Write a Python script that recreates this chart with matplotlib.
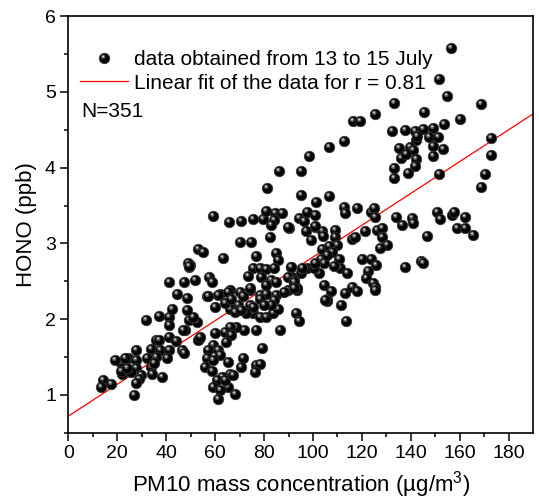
import matplotlib
matplotlib.use("Agg")
import matplotlib.pyplot as plt
from matplotlib.lines import Line2D
from matplotlib.markers import MarkerStyle
from matplotlib.transforms import Affine2D

plt.rcParams['font.family'] = ['Liberation Sans', 'DejaVu Sans']
plt.rcParams['mathtext.fontset'] = 'custom'
plt.rcParams['mathtext.rm'] = 'Liberation Sans'
plt.rcParams['mathtext.it'] = 'Liberation Sans'

# PM10 (ug/m3) and HONO (ppb)
pm10 = [
    # upper right group
    156.4, 151.7, 154.6, 168.8, 133.0, 145.3, 125.2, 116.3, 119.4, 160.1,
    132.5, 137.8, 141.7, 144.9, 149.2, 153.7, 142.2, 142.7, 147.6, 151.0,
    135.2, 139.5, 141.1, 148.9, 153.2, 135.8, 138.1, 142.2, 148.9, 133.2,
    141.6, 133.0, 138.7, 151.4, 172.6, 172.6, 170.3, 168.8, 106.5, 112.6,
    106.5, 98.4, 95.1,
    # middle right
    95.2, 101.3, 112.6, 112.9, 118.2, 123.6, 125.1, 125.3, 133.9, 136.6,
    140.3, 140.9, 150.8, 152.0, 156.7, 157.8, 162.2, 158.9, 162.0, 165.6,
    146.5, 137.8, 144.3, 145.1, 94.3, 96.3, 97.7, 100.7, 90.3, 97.0,
    101.0, 103.5, 104.2, 109.1, 109.1, 109.8, 99.1, 116.0, 117.2, 121.3,
    126.0, 128.1, 128.1, 130.1, 127.4, 120.0, 123.6, 125.7, 122.7, 121.7,
    124.7, 125.3, 110.5, 110.9, 113.9, 104.5, 107.2, 113.2, 116.0, 117.9,
    105.8, 103.8, 106.5, 103.1, 104.7, 102.4, 108.4, 97.7, 95.0, 91.6,
    92.3, 93.6, 90.9, 100.4, 101.0, 107.9, 105.8, 105.8, 111.6,
    93.0, 94.3, 113.4, 125.3, 100.9,
    # middle
    86.2, 81.2, 59.3, 65.6, 70.5, 75.4, 79.4, 80.8, 84.5, 87.5,
    84.0, 82.8, 89.6, 70.1, 74.5, 82.6, 52.9, 55.2, 49.8, 63.0,
    76.8, 84.9, 85.6, 75.4, 78.2, 80.8, 84.0, 73.4, 78.7, 82.8,
    84.9, 91.0, 95.7, 89.6, 92.3, 93.6, 89.6, 57.5, 58.8, 62.0,
    66.0, 70.1, 74.1, 71.3, 78.2, 80.7, 84.9, 88.2, 56.5, 51.8,
    49.1, 48.9, 49.3, 41.3, 47.1, 44.4, 48.5,
    # lower middle
    57.2, 61.3, 59.9, 65.3, 74.1, 80.8, 84.2, 78.2, 74.1, 69.4,
    66.0, 68.0, 75.4, 78.2, 80.8, 83.5, 85.6, 82.8, 80.1, 75.4,
    72.7, 70.7, 64.0, 66.6, 92.3, 92.3, 105.1, 86.6, 76.8, 71.7,
    68.7, 66.0, 64.0, 59.9, 66.6, 64.6, 53.2, 49.1, 52.5, 51.1,
    59.2, 57.2, 61.3, 62.0, 56.5, 59.2, 55.9, 58.5, 65.3, 71.3,
    70.7, 66.0, 62.6, 60.6, 59.2, 65.3, 62.0, 68.0, 61.3, 76.8,
    78.2, 76.1, 79.0, 64.0, 67.3,
    # lower left
    31.8, 37.0, 41.1, 42.3, 41.1, 48.5, 47.8, 52.9, 53.9, 36.0,
    37.0, 41.1, 43.9, 46.4, 47.1, 33.6, 37.6, 41.1, 40.4, 35.6,
    32.3, 33.6, 35.0, 38.1, 34.3, 27.5, 24.5, 27.5, 27.5, 21.4,
    23.5, 22.1, 25.5, 29.5, 28.8, 27.5, 19.2, 26.8, 23.2, 14.0,
    13.3, 17.4, 46.8, 21.4, 24.1,
]
hono = [
    5.58, 5.17, 4.94, 4.84, 4.86, 4.74, 4.71, 4.61, 4.61, 4.64,
    4.49, 4.50, 4.49, 4.51, 4.53, 4.57, 4.36, 4.42, 4.41, 4.41,
    4.26, 4.27, 4.23, 4.28, 4.25, 4.13, 4.18, 4.12, 4.15, 4.00,
    4.02, 3.86, 3.93, 3.92, 4.39, 4.17, 3.92, 3.74, 4.27, 4.35,
    3.62, 4.16, 3.96,
    3.64, 3.55, 3.48, 3.40, 3.47, 3.42, 3.47, 3.35, 3.35, 3.24,
    3.33, 3.27, 3.41, 3.32, 3.37, 3.41, 3.35, 3.20, 3.20, 3.11,
    3.10, 2.69, 2.77, 2.74, 3.33, 3.30, 3.42, 3.38, 3.20, 3.16,
    3.21, 3.16, 3.10, 3.18, 3.08, 2.98, 3.04, 3.06, 3.09, 3.17,
    3.18, 3.20, 3.08, 2.98, 2.94, 2.79, 2.80, 2.72, 2.63, 2.54,
    2.48, 2.42, 2.79, 2.68, 2.61, 2.45, 2.37, 2.35, 2.42, 2.37,
    2.27, 2.92, 2.96, 2.80, 2.74, 2.61, 2.70, 2.67, 2.61, 2.56,
    2.47, 2.39, 2.69, 2.67, 2.74, 2.89, 2.85, 2.24, 2.19,
    2.08, 1.98, 1.98, 2.38, 3.23,
    3.95, 3.73, 3.36, 3.28, 3.30, 3.32, 3.32, 3.43, 3.40, 3.40,
    3.31, 3.24, 3.21, 3.02, 3.02, 3.09, 2.92, 2.89, 2.72, 2.81,
    2.83, 2.87, 2.78, 2.67, 2.67, 2.66, 2.68, 2.57, 2.56, 2.52,
    2.49, 2.69, 2.67, 2.56, 2.52, 2.41, 2.38, 2.55, 2.49, 2.33,
    2.38, 2.36, 2.39, 2.30, 2.32, 2.33, 2.32, 2.36, 2.30, 2.52,
    2.69, 2.74, 2.70, 2.49, 2.49, 2.33, 2.28,
    2.30, 2.32, 2.16, 2.36, 2.41, 2.45, 2.25, 2.27, 2.19, 2.19,
    2.14, 2.10, 2.08, 2.03, 2.03, 2.08, 2.14, 2.19, 2.19, 2.16,
    2.08, 2.12, 2.21, 2.27, 2.49, 2.41, 2.25, 1.85, 1.85, 1.85,
    1.90, 1.90, 1.83, 1.81, 1.79, 1.70, 1.74, 1.99, 1.96, 2.03,
    1.66, 1.59, 1.59, 1.52, 1.48, 1.46, 1.37, 1.32, 1.44, 1.49,
    1.37, 1.28, 1.24, 1.19, 1.10, 1.10, 1.06, 1.01, 0.95, 1.39,
    1.41, 1.30, 1.62, 1.19, 1.26,
    1.99, 2.04, 2.03, 2.14, 1.92, 2.12, 1.85, 1.73, 1.77, 1.72,
    1.73, 1.77, 1.71, 1.59, 1.55, 1.60, 1.59, 1.59, 1.48, 1.50,
    1.48, 1.37, 1.42, 1.24, 1.28, 1.59, 1.48, 1.46, 1.35, 1.42,
    1.33, 1.28, 1.30, 1.26, 1.21, 1.15, 1.46, 1.00, 1.49, 1.19,
    1.11, 1.14, 1.85, 1.32, 1.35,
]

fit_intercept = 0.72
fit_slope = 0.0210
fit_range = [0, 190]

xticks = [0, 20, 40, 60, 80, 100, 120, 140, 160, 180]
yticks = [1, 2, 3, 4, 5, 6]

fig = plt.figure(figsize=(5.39, 5.0), dpi=100)
ax = fig.add_axes([0.127, 0.1346, 0.862, 0.833])

# sphere-like markers: black ball + grey highlight up-left
ms = 7.6
hl1 = MarkerStyle('o', transform=Affine2D().scale(0.42).translate(-0.12, 0.16))
hl2 = MarkerStyle('o', transform=Affine2D().scale(0.18).translate(-0.13, 0.19))
for i, (xv, yv) in enumerate(zip(pm10, hono)):
    z = 3 + i * 0.003
    ax.scatter(xv, yv, s=ms ** 2, c='#050505', edgecolors='#3a3a3a',
               linewidths=0.5, zorder=z)
    ax.scatter(xv, yv, s=ms ** 2, marker=hl1, c='#5a5a5a', linewidths=0,
               zorder=z + 0.001)
    ax.scatter(xv, yv, s=ms ** 2, marker=hl2, c='#d8d8d8', linewidths=0,
               zorder=z + 0.002)

fx = fit_range
fy = [fit_intercept + fit_slope * v for v in fx]
ax.plot(fx, fy, color='#ff0000', lw=0.9, zorder=2)

ax.set_xlim(0, 190)
ax.set_ylim(0.5, 6)
ax.set_xticks(xticks)
ax.set_yticks(yticks)
ax.set_xticks(range(10, 190, 20), minor=True)
ax.set_yticks([0.5 + k for k in range(6)], minor=True)
ax.tick_params(which='major', direction='out', length=5.5, width=1.1,
               labelsize=14, top=False, right=False)
ax.tick_params(which='minor', direction='out', length=3, width=1.1,
               top=False, right=False)
for sp in ax.spines.values():
    sp.set_linewidth(1.2)

ax.set_xlabel(r'PM10 mass concentration (µg/m$^{3}$)', fontsize=16, labelpad=5)
ax.set_ylabel('HONO (ppb)', fontsize=16, labelpad=6)

base = Line2D([], [], ls='none', marker='o', ms=ms, mfc='#050505', mec='#3a3a3a', mew=0.5)
h1 = Line2D([], [], ls='none', marker=hl1, ms=ms, mfc='#5a5a5a', mec='none')
h2 = Line2D([], [], ls='none', marker=hl2, ms=ms, mfc='#d8d8d8', mec='none')
fit_h = Line2D([], [], color='#ff0000', lw=0.9)
ax.legend([(base, h1, h2), fit_h],
          ['data obtained from 13 to 15 July', 'Linear fit of the data for r = 0.81'],
          loc='upper left', bbox_to_anchor=(0.025, 0.918), frameon=False,
          fontsize=15, handlelength=2.3, handletextpad=0.3,
          labelspacing=0.2, borderpad=0, borderaxespad=0)
ax.text(0.027, 0.772, 'N=351', transform=ax.transAxes, fontsize=15,
        va='center', ha='left')

fig.savefig('out.png', dpi=100)
